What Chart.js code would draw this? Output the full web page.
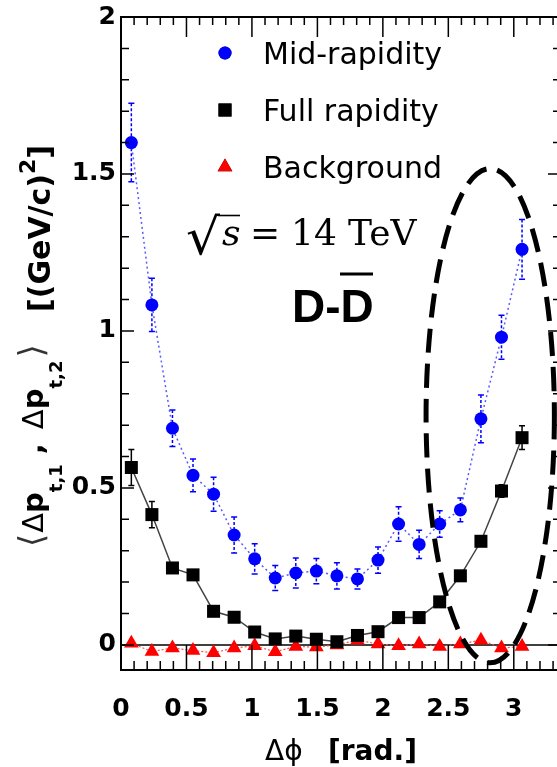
<!DOCTYPE html>
<html>
<head>
<meta charset="utf-8">
<script src="https://cdn.jsdelivr.net/npm/chart.js@4.4.1/dist/chart.umd.min.js"></script>
<style>
  html, body { margin: 0; padding: 0; background: #fff; overflow: hidden; }
  #wrap { width: 557px; height: 767px; }
</style>
</head>
<body>
<div id="wrap"><canvas id="chart" width="557" height="767"></canvas></div>
<script>
// bin centres (rad), 20 bins between 0 and pi
const dPhi = [0.079, 0.236, 0.393, 0.550, 0.707, 0.864, 1.021, 1.178, 1.335, 1.492,
              1.649, 1.806, 1.963, 2.120, 2.277, 2.434, 2.592, 2.749, 2.906, 3.063];

const midRap = [1.60, 1.083, 0.69, 0.54, 0.48, 0.35, 0.274, 0.213, 0.229, 0.235,
                0.22, 0.21, 0.27, 0.385, 0.32, 0.385, 0.43, 0.72, 0.98, 1.26];
const midErr = [0.125, 0.085, 0.058, 0.052, 0.054, 0.057, 0.048, 0.04, 0.048, 0.04,
                0.042, 0.032, 0.042, 0.055, 0.045, 0.042, 0.038, 0.076, 0.07, 0.095];

const fullRap = [0.565, 0.415, 0.245, 0.223, 0.107, 0.088, 0.041, 0.019, 0.028, 0.018,
                 0.01, 0.03, 0.042, 0.087, 0.087, 0.137, 0.22, 0.33, 0.49, 0.66];
const fullErr = [0.057, 0.042, 0.012, 0.012, 0.01, 0.01, 0.01, 0.008, 0.008, 0.008,
                 0.008, 0.008, 0.008, 0.01, 0.01, 0.01, 0.012, 0.015, 0.02, 0.038];

const background = [0.005, -0.021, -0.01, -0.018, -0.025, -0.01, -0.003, -0.022, -0.005, -0.007,
                    0.0, 0.015, 0.003, -0.003, 0.003, -0.005, 0.003, 0.015, -0.01, -0.005];

const legendLabels = ['Mid-rapidity', 'Full rapidity', 'Background'];
const xTicks = [0, 0.5, 1, 1.5, 2, 2.5, 3];
const yTicks = [0, 0.5, 1, 1.5, 2];

// dashed ellipse drawn on the figure (data units)
const ellipse = { x: 2.82, y: 0.73, rx: 0.49, ry: 0.787 };

const BLUE = '#0000ff';
const RED = '#ff0000';
const SANS = '"DejaVu Sans", sans-serif';
const SERIF = '"DejaVu Serif", serif';

const pts = (ys) => dPhi.map((x, i) => ({ x: x, y: ys[i] }));

function errorBars(ctx, sx, sy, ys, errs, color, dash) {
  ctx.save();
  ctx.strokeStyle = color;
  ctx.lineWidth = 1.5;
  dPhi.forEach((x, i) => {
    const px = sx.getPixelForValue(x);
    const top = sy.getPixelForValue(ys[i] + errs[i]);
    const bot = sy.getPixelForValue(ys[i] - errs[i]);
    ctx.setLineDash(dash);
    ctx.beginPath();
    ctx.moveTo(px, top);
    ctx.lineTo(px, bot);
    ctx.stroke();
    ctx.setLineDash([]);
    ctx.beginPath();
    ctx.moveTo(px - 3, top); ctx.lineTo(px + 3, top);
    ctx.moveTo(px - 3, bot); ctx.lineTo(px + 3, bot);
    ctx.stroke();
  });
  ctx.restore();
}

// draws a run of text pieces along the baseline
function textRun(ctx, pieces, x, y) {
  pieces.forEach(p => {
    ctx.font = p.font;
    ctx.fillStyle = p.color || '#000';
    ctx.fillText(p.t, x, y + (p.dy || 0));
    x += ctx.measureText(p.t).width + (p.gap || 0);
  });
  return x;
}

const decor = {
  id: 'decor',
  beforeDatasetsDraw(chart) {
    const { ctx, chartArea: a } = chart;
    const sx = chart.scales.x, sy = chart.scales.y;
    // zero line
    ctx.save();
    ctx.strokeStyle = '#000';
    ctx.lineWidth = 1.5;
    const y0 = sy.getPixelForValue(0);
    ctx.beginPath();
    ctx.moveTo(a.left, y0);
    ctx.lineTo(a.right, y0);
    ctx.stroke();
    ctx.restore();
    errorBars(ctx, sx, sy, midRap, midErr, BLUE, [3, 2]);
    errorBars(ctx, sx, sy, fullRap, fullErr, '#000', []);
  },
  afterDatasetsDraw(chart) {
    const { ctx, chartArea: a } = chart;
    const sx = chart.scales.x, sy = chart.scales.y;

    // dashed ellipse
    ctx.save();
    ctx.strokeStyle = '#000';
    ctx.lineWidth = 5;
    ctx.setLineDash([24, 11]);
    const cx = sx.getPixelForValue(ellipse.x), cy = sy.getPixelForValue(ellipse.y);
    const rx = sx.getPixelForValue(ellipse.x + ellipse.rx) - cx;
    const ry = cy - sy.getPixelForValue(ellipse.y + ellipse.ry);
    ctx.beginPath();
    ctx.ellipse(cx, cy, rx, ry, 0, 0, Math.PI * 2);
    ctx.stroke();
    ctx.restore();

    // frame (right side is cut off in the figure) and inner ticks
    ctx.save();
    ctx.strokeStyle = '#000';
    ctx.lineWidth = 2;
    ctx.beginPath();
    ctx.moveTo(a.right + 2, a.top);
    ctx.lineTo(a.left, a.top);
    ctx.lineTo(a.left, a.bottom);
    ctx.lineTo(a.right + 2, a.bottom);
    ctx.stroke();
    ctx.lineWidth = 1.5;
    ctx.beginPath();
    for (let k = 0; k <= 33; k++) {
      const px = sx.getPixelForValue(k / 10);
      const major = k % 5 === 0;
      ctx.moveTo(px, a.bottom); ctx.lineTo(px, a.bottom - (major ? 25 : 9));
      ctx.moveTo(px, a.top); ctx.lineTo(px, a.top + (major ? 20 : 8));
    }
    for (let k = 0; k <= 20; k++) {
      const py = sy.getPixelForValue(k / 10);
      const major = k % 5 === 0;
      ctx.moveTo(a.left, py); ctx.lineTo(a.left + (major ? 13 : 8), py);
      ctx.moveTo(a.right + 1, py); ctx.lineTo(a.right + 1 - (major ? 10 : 5), py);
    }
    ctx.stroke();
    ctx.restore();

    // legend
    ctx.save();
    const rows = [53, 110, 167];
    chart.data.datasets.forEach((ds, i) => {
      Chart.helpers.drawPoint(ctx, {
        pointStyle: ds.pointStyle, radius: ds.pointRadius, borderWidth: 0
      }, 225, rows[i]);
      ctx.fillStyle = ds.backgroundColor;
      ctx.fill();
      ctx.font = '30px ' + SANS;
      ctx.fillStyle = '#000';
      ctx.textBaseline = 'alphabetic';
      ctx.fillText(legendLabels[i], 263, rows[i] + 11);
    });
    ctx.restore();

    // sqrt(s) = 14 TeV
    ctx.save();
    ctx.fillStyle = '#000';
    ctx.strokeStyle = '#000';
    ctx.font = '40px ' + SERIF;
    const rw = ctx.measureText('\u221A').width;
    ctx.save();
    ctx.translate(186, 254);
    ctx.scale(34 / rw, 1.25);
    ctx.fillText('\u221A', 0, 0);
    ctx.restore();
    ctx.lineWidth = 1.6;
    ctx.beginPath();
    ctx.moveTo(218, 215.5); ctx.lineTo(240, 215.5);
    ctx.stroke();
    ctx.font = 'italic 36px ' + SERIF;
    ctx.fillText('s', 222, 245);
    ctx.font = '36px ' + SERIF;
    ctx.fillText('=', 250, 245);
    ctx.fillText('14', 291, 245);
    ctx.fillText('TeV', 348, 245);

    // D-Dbar
    ctx.font = 'bold 46px "Liberation Sans", Arial, sans-serif';
    ctx.fillText('D-D', 292, 322);
    ctx.lineWidth = 3;
    ctx.beginPath();
    ctx.moveTo(340, 274); ctx.lineTo(373, 274);
    ctx.stroke();

    // x title
    ctx.font = '28px ' + SANS;
    ctx.fillText('\u0394\u03D5', 265, 760);
    ctx.font = 'bold 28px ' + SANS;
    ctx.fillText('[rad.]', 328, 760);

    // y title (rotated)
    ctx.translate(50, 312);
    ctx.rotate(-Math.PI / 2);
    textRun(ctx, [
      { t: '[(GeV/c)', font: 'bold 30px ' + SANS },
      { t: '2', font: 'bold 22px ' + SANS, dy: -15 },
      { t: ']', font: 'bold 30px ' + SANS }
    ], 0, 0);
    ctx.rotate(Math.PI / 2);
    ctx.translate(-50, -312);
    ctx.translate(43, 547);
    ctx.rotate(-Math.PI / 2);
    textRun(ctx, [
      { t: '\u27E8', font: '34px ' + SANS, color: '#333', gap: 1 },
      { t: '\u0394', font: '29px ' + SANS },
      { t: 'p', font: 'bold 29px ' + SANS },
      { t: 't,1', font: 'bold 18px ' + SANS, dy: 19, gap: 10 },
      { t: ',', font: 'bold 29px ' + SANS, gap: 14 },
      { t: '\u0394', font: '29px ' + SANS },
      { t: 'p', font: 'bold 29px ' + SANS },
      { t: 't,2', font: 'bold 18px ' + SANS, dy: 19, gap: 3 },
      { t: '\u27E9', font: '34px ' + SANS, color: '#333' }
    ], 0, 0);
    ctx.restore();
  }
};

new Chart(document.getElementById('chart'), {
  type: 'line',
  data: {
    datasets: [
      {
        label: legendLabels[0],
        data: pts(midRap),
        borderColor: '#5a5aff',
        borderWidth: 1.5,
        borderDash: [2, 3],
        backgroundColor: BLUE,
        pointBackgroundColor: BLUE,
        pointBorderWidth: 0,
        pointStyle: 'circle',
        pointRadius: 6.5
      },
      {
        label: legendLabels[1],
        data: pts(fullRap),
        borderColor: '#444',
        borderWidth: 1.5,
        backgroundColor: '#000',
        pointBackgroundColor: '#000',
        pointBorderWidth: 0,
        pointStyle: 'rect',
        pointRadius: 9.2
      },
      {
        label: legendLabels[2],
        data: pts(background),
        borderColor: '#ff5050',
        borderWidth: 1.2,
        borderDash: [2, 2],
        backgroundColor: RED,
        pointBackgroundColor: RED,
        pointBorderWidth: 0,
        pointStyle: 'triangle',
        pointRadius: 8.5
      }
    ]
  },
  options: {
    responsive: false,
    animation: false,
    devicePixelRatio: 1,
    layout: { autoPadding: false, padding: { left: 0, right: 0, top: 17, bottom: 0 } },
    plugins: { legend: { display: false }, tooltip: { enabled: false } },
    scales: {
      x: {
        type: 'linear',
        min: 0,
        max: 3.33,
        afterBuildTicks: s => { s.ticks = xTicks.map(v => ({ value: v })); },
        afterFit: s => { s.height = 97; s.paddingLeft = 0; s.paddingRight = 0; },
        grid: { display: false, drawTicks: false },
        border: { display: false },
        ticks: {
          padding: 24,
          maxRotation: 0,
          color: '#000',
          font: { family: 'DejaVu Sans', size: 25, weight: 'bold' },
          callback: v => String(v)
        }
      },
      y: {
        min: -0.08,
        max: 2,
        afterBuildTicks: s => { s.ticks = yTicks.map(v => ({ value: v })); },
        afterFit: s => { s.width = 121; s.paddingTop = 0; s.paddingBottom = 0; },
        grid: { display: false, drawTicks: false },
        border: { display: false },
        ticks: {
          padding: 5,
          color: '#000',
          font: { family: 'DejaVu Sans', size: 25, weight: 'bold' },
          callback: v => String(v)
        }
      }
    }
  },
  plugins: [decor]
});
</script>
</body>
</html>
